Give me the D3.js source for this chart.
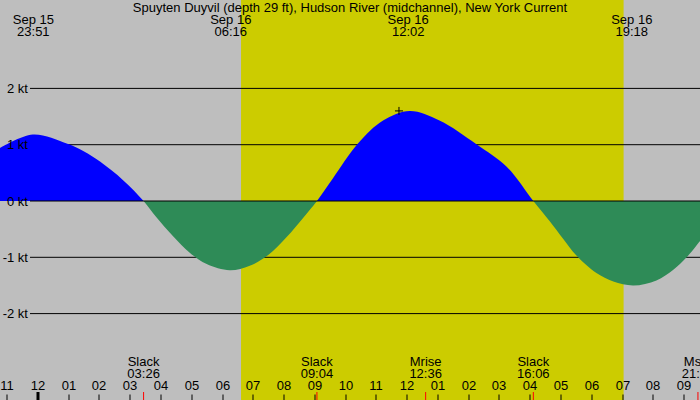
<!DOCTYPE html>
<html>
<head>
<meta charset="utf-8">
<script src="https://cdn.jsdelivr.net/npm/d3@7"></script>
<style>
  body { margin: 0; background: #bebebe; }
  svg { display: block; font-family: "Liberation Sans", Arial, sans-serif; }
</style>
</head>
<body>
<div id="chart"></div>
<script>
// chart texts
var title = 'Spuyten Duyvil (depth 29 ft), Hudson River (midchannel), New York Current';
// visible time window
var windowStart = '09-15 22:46';
var windowEnd = '09-16 21:31';
// daylight band
var dayStart = '09-16 06:36';
var dayEnd = '09-16 19:02';
// current speed (kt, + flood / - ebb)
var curTimes = ['09-15 22:46', '09-15 23:50', '09-16 00:56', '09-16 01:30', '09-16 02:01', '09-16 02:46',
	'09-16 03:26', '09-16 03:51', '09-16 04:24', '09-16 04:56', '09-16 05:29', '09-16 06:14',
	'09-16 06:53', '09-16 07:29', '09-16 08:05', '09-16 08:37', '09-16 09:04', '09-16 09:35',
	'09-16 10:24', '09-16 11:13', '09-16 12:05', '09-16 13:03', '09-16 14:15', '09-16 15:14',
	'09-16 16:06', '09-16 16:38', '09-16 17:04', '09-16 17:30', '09-16 18:09', '09-16 18:42',
	'09-16 19:21', '09-16 20:06', '09-16 20:39', '09-16 21:05', '09-16 21:31'];
var curKnots = [0.94, 1.18, 1.02, 0.88, 0.70, 0.37,
	0, -0.29, -0.63, -0.92, -1.12, -1.23,
	-1.15, -0.96, -0.64, -0.30, 0, 0.40,
	1.02, 1.43, 1.60, 1.43, 1.01, 0.61,
	0, -0.36, -0.67, -0.97, -1.28, -1.43,
	-1.50, -1.41, -1.22, -1.0, -0.71];
// max current marker
var maxTime = '09-16 11:44';
var maxKnots = 1.6;
// y gridlines
var knotTicks = [2, 1, 0, -1, -2];
// labels along the top
var topDays = ['Sep 15', 'Sep 16', 'Sep 16', 'Sep 16'];
var topTimes = ['09-15 23:51', '09-16 06:16', '09-16 12:02', '09-16 19:18'];
// events along the bottom
var eventNames = ['Slack', 'Slack', 'Mrise', 'Slack', 'Mset'];
var eventTimes = ['09-16 03:26', '09-16 09:04', '09-16 12:36', '09-16 16:06', '09-16 21:27'];

var parse = d3.timeParse('%m-%d %H:%M');
var width = 700, height = 400;
var fontSize = '13px';

var x = d3.scaleTime()
	.domain([parse(windowStart), parse(windowEnd)])
	.range([0, width]);
var y = d3.scaleLinear()
	.domain([-2, 2])
	.range([313.6, 88.4]);

var svg = d3.select('#chart').append('svg')
	.attr('width', width)
	.attr('height', height);

svg.append('rect')
	.attr('width', width)
	.attr('height', height)
	.attr('fill', '#bebebe');

// daylight
svg.append('rect')
	.attr('x', x(parse(dayStart)))
	.attr('width', x(parse(dayEnd)) - x(parse(dayStart)))
	.attr('y', 0)
	.attr('height', height)
	.attr('fill', '#cccc00');

// grid lines except zero (zero goes on top of the fill)
svg.selectAll('.grid')
	.data(knotTicks.filter(function(d) { return d !== 0; }))
	.enter()
	.append('line')
	.attr('x1', 30)
	.attr('x2', width)
	.attr('y1', function(d) { return y(d); })
	.attr('y2', function(d) { return y(d); })
	.attr('stroke', '#000')
	.attr('stroke-width', 1);

var defs = svg.append('defs');
defs.append('clipPath').attr('id', 'above')
	.append('rect').attr('x', 0).attr('y', 0).attr('width', width).attr('height', y(0));
defs.append('clipPath').attr('id', 'below')
	.append('rect').attr('x', 0).attr('y', y(0)).attr('width', width).attr('height', height - y(0));

var pts = curTimes.map(function(t, i) { return { t: parse(t), v: curKnots[i] }; });
var area = d3.area()
	.curve(d3.curveCatmullRom.alpha(0.5))
	.x(function(d) { return x(d.t); })
	.y0(y(0))
	.y1(function(d) { return y(d.v); });

svg.append('path')
	.attr('d', area(pts))
	.attr('fill', '#0000ff')
	.attr('clip-path', 'url(#above)');
svg.append('path')
	.attr('d', area(pts))
	.attr('fill', '#2e8b57')
	.attr('clip-path', 'url(#below)');

// zero line
svg.append('line')
	.attr('x1', 30)
	.attr('x2', width)
	.attr('y1', y(0))
	.attr('y2', y(0))
	.attr('stroke', '#000');

// y labels
svg.selectAll('.ylab')
	.data(knotTicks)
	.enter()
	.append('text')
	.attr('x', 28)
	.attr('y', function(d) { return y(d) + 4.5; })
	.attr('text-anchor', 'end')
	.style('font-size', fontSize)
	.text(function(d) { return d + ' kt'; });

// max marker
var mx = x(parse(maxTime)), my = y(maxKnots);
svg.append('path')
	.attr('d', 'M' + (mx - 4) + ',' + my + 'H' + (mx + 4) + 'M' + mx + ',' + (my - 4) + 'V' + (my + 4))
	.attr('stroke', '#000')
	.attr('stroke-width', 1);

// title
svg.append('text')
	.attr('x', width / 2)
	.attr('y', 12)
	.attr('text-anchor', 'middle')
	.style('font-size', fontSize)
	.text(title);

// top labels
var topGrp = svg.selectAll('.toplab')
	.data(topTimes)
	.enter()
	.append('g')
	.attr('transform', function(d) { return 'translate(' + x(parse(d)) + ',0)'; });
topGrp.append('text')
	.attr('y', 24)
	.attr('text-anchor', 'middle')
	.style('font-size', fontSize)
	.text(function(d, i) { return topDays[i]; });
topGrp.append('text')
	.attr('y', 36)
	.attr('text-anchor', 'middle')
	.style('font-size', fontSize)
	.text(function(d) { return d.slice(6); });

// bottom events
var evGrp = svg.selectAll('.ev')
	.data(eventTimes)
	.enter()
	.append('g')
	.attr('transform', function(d) { return 'translate(' + x(parse(d)) + ',0)'; });
evGrp.append('text')
	.attr('y', 366)
	.attr('text-anchor', 'middle')
	.style('font-size', fontSize)
	.text(function(d, i) { return eventNames[i]; });
evGrp.append('text')
	.attr('y', 378)
	.attr('text-anchor', 'middle')
	.style('font-size', fontSize)
	.text(function(d) { return d.slice(6); });
evGrp.append('line')
	.attr('y1', 392)
	.attr('y2', height)
	.attr('stroke', '#ff0000');

// hour ticks
var hours = d3.timeHour.range(x.domain()[0], x.domain()[1]);
var fmt = d3.timeFormat('%I');
var hrGrp = svg.selectAll('.hr')
	.data(hours)
	.enter()
	.append('g')
	.attr('transform', function(d) { return 'translate(' + Math.round(x(d)) + ',0)'; });
hrGrp.append('text')
	.attr('y', 390)
	.attr('text-anchor', 'middle')
	.style('font-size', fontSize)
	.text(function(d) { return fmt(d); });
hrGrp.append('line')
	.attr('y1', function(d) { return d.getHours() === 0 ? 392 : 394.5; })
	.attr('y2', height)
	.attr('stroke', '#000')
	.attr('stroke-width', function(d) { return d.getHours() === 0 ? 3 : 1; });
</script>
</body>
</html>
